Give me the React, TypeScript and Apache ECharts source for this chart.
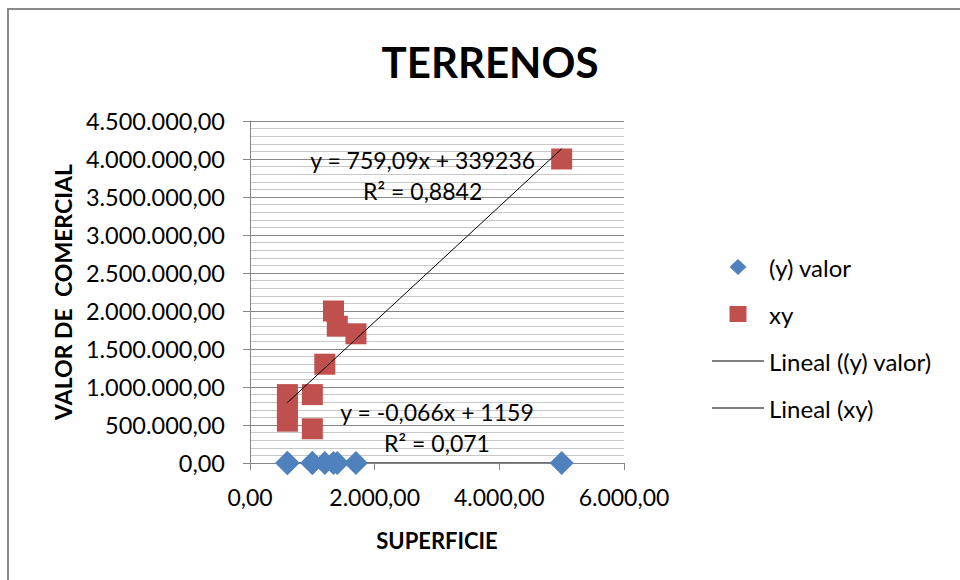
import React, { useEffect, useRef } from "react";
import * as echarts from "echarts";

// Data
const superficie = [600, 600, 600, 1000, 1000, 1200, 1340, 1400, 1700, 5000];
const valorComercial = [900000, 720000, 550000, 900000, 450000, 1300000, 2000000, 1800000, 1700000, 4000000];
const valorUnitario = [1500, 1200, 917, 900, 450, 1083, 1493, 1286, 1000, 800];

const yTicks = [0, 500000, 1000000, 1500000, 2000000, 2500000, 3000000, 3500000, 4000000, 4500000];
const xTicks = [0, 2000, 4000, 6000];

// Trendline coefficients shown on the chart
const trendXY = { slope: 759.09, intercept: 339236, label: "y = 759,09x + 339236\nR² = 0,8842" };
const trendValor = { slope: -0.066, intercept: 1159, label: "y = -0,066x + 1159\nR² = 0,071" };

const FONT = "Lato, 'Open Sans', sans-serif";

const ICON_DIAMOND = "path://M0,8L0.01,8Z M26,0L34.5,8L26,16L17.5,8Z M52,8L51.99,8Z";
const ICON_RECT = "path://M0,8L0.01,8Z M17.5,0L34.5,0L34.5,16L17.5,16Z M52,8L51.99,8Z";
const ICON_LINE = "path://M0,0L0.01,0Z M0,7.5L52,7.5L52,8.6L0,8.6Z M0,16L0.01,16Z";

function fmt(v: number): string {
  const s = Math.round(v).toString().replace(/\B(?=(\d{3})+(?!\d))/g, ".");
  return s + ",00";
}

export default function App() {
  const ref = useRef<HTMLDivElement>(null);
  useEffect(() => {
    if (!ref.current) return;
    const chart = echarts.init(ref.current, undefined, { renderer: "svg" });
    const xMin = Math.min(...superficie);
    const xMax = Math.max(...superficie);
    const trendLine = (t: { slope: number; intercept: number }) => [
      [xMin, t.slope * xMin + t.intercept],
      [xMax, t.slope * xMax + t.intercept],
    ];
    chart.setOption({
      animation: false,
      backgroundColor: "#ffffff",
      title: {
        text: "TERRENOS",
        left: 485,
        textAlign: "center",
        top: 36,
        textStyle: { fontFamily: FONT, fontSize: 42, fontWeight: "bold", color: "#000" },
      },
      grid: { left: 250, right: 336, top: 121, bottom: 117, containLabel: false },
      xAxis: {
        type: "value",
        min: xTicks[0],
        max: xTicks[xTicks.length - 1],
        interval: 2000,
        name: "SUPERFICIE",
        nameLocation: "middle",
        nameGap: 66,
        nameTextStyle: { fontFamily: FONT, fontSize: 22, fontWeight: "bold", color: "#000" },
        axisLine: { show: true, lineStyle: { color: "#868686", width: 1 } },
        axisTick: { show: true, length: 7, lineStyle: { color: "#868686" } },
        splitLine: { show: false },
        axisLabel: {
          fontFamily: FONT,
          fontSize: 23,
          color: "#000",
          margin: 22,
          formatter: (v: number) => fmt(v),
        },
      },
      yAxis: {
        type: "value",
        min: yTicks[0],
        max: yTicks[yTicks.length - 1],
        interval: 500000,
        name: "VALOR DE  COMERCIAL",
        nameLocation: "middle",
        nameGap: 176,
        nameRotate: 90,
        nameTextStyle: { fontFamily: FONT, fontSize: 23, fontWeight: "bold", color: "#000" },
        axisLine: { show: true, lineStyle: { color: "#868686", width: 1 } },
        axisTick: { show: true, length: 7, lineStyle: { color: "#868686" } },
        minorTick: { show: false, splitNumber: 5 },
        splitLine: { show: true, lineStyle: { color: "#868686", width: 1 } },
        minorSplitLine: { show: true, lineStyle: { color: "#c8c8c8", width: 1 } },
        axisLabel: {
          fontFamily: FONT,
          fontSize: 23.5,
          color: "#000",
          margin: 25,
          formatter: (v: number) => fmt(v),
        },
      },
      legend: {
        orient: "vertical",
        left: 712,
        top: 255,
        padding: 0,
        itemWidth: 52,
        itemHeight: 16,
        itemGap: 23,
        symbolKeepAspect: true,
        textStyle: { fontFamily: FONT, fontSize: 24, color: "#000" },
        data: [
          { name: "(y) valor", icon: ICON_DIAMOND },
          { name: "xy", icon: ICON_RECT },
          { name: "Lineal ((y) valor)", icon: ICON_LINE },
          { name: "Lineal (xy)", icon: ICON_LINE },
        ],
      },
      series: [
        {
          name: "(y) valor",
          type: "scatter",
          symbol: "diamond",
          symbolSize: [24, 24],
          itemStyle: { color: "#4f81bd", opacity: 1 },
          data: superficie.map((x, i) => [x, valorUnitario[i]]),
          z: 3,
        },
        {
          name: "xy",
          type: "scatter",
          symbol: "rect",
          symbolSize: 21,
          itemStyle: { color: "#c0504d", opacity: 1 },
          data: superficie.map((x, i) => [x, valorComercial[i]]),
          z: 3,
        },
        {
          name: "Lineal ((y) valor)",
          type: "line",
          symbol: "none",
          showSymbol: false,
          lineStyle: { color: "#000", width: 1 },
          itemStyle: { color: "#000" },
          data: trendLine(trendValor),
          z: -1,
          markPoint: {
            symbol: "rect",
            symbolSize: 0,
            silent: true,
            z: 5,
            data: [
              {
                coord: [3000, 500000],
                value: 0,
                label: {
                  show: true,
                  formatter: trendValor.label,
                  fontFamily: FONT,
                  fontSize: 23,
                  lineHeight: 31,
                  align: "center",
                  color: "#000",
                  position: [0, -29],
                },
              },
            ],
          },
        },
        {
          name: "Lineal (xy)",
          type: "line",
          symbol: "none",
          showSymbol: false,
          lineStyle: { color: "#000", width: 1 },
          itemStyle: { color: "#000" },
          data: trendLine(trendXY),
          z: 4,
          markPoint: {
            symbol: "rect",
            symbolSize: 0,
            silent: true,
            data: [
              {
                coord: [2770, 4000000],
                value: 0,
                label: {
                  show: true,
                  formatter: trendXY.label,
                  fontFamily: FONT,
                  fontSize: 23,
                  lineHeight: 31,
                  align: "center",
                  color: "#000",
                  position: [0, -15],
                },
              },
            ],
          },
        },
      ],
      graphic: [
        {
          type: "rect",
          shape: { x: 8, y: 9, width: 1000, height: 620 },
          style: { fill: "none", stroke: "#898989", lineWidth: 2 },
          silent: true,
          z: -10,
        },
      ],
    });
    return () => chart.dispose();
  }, []);
  return (
    <div
      ref={ref}
      style={{ position: "fixed", left: 0, top: 0, width: 960, height: 580 }}
    />
  );
}
